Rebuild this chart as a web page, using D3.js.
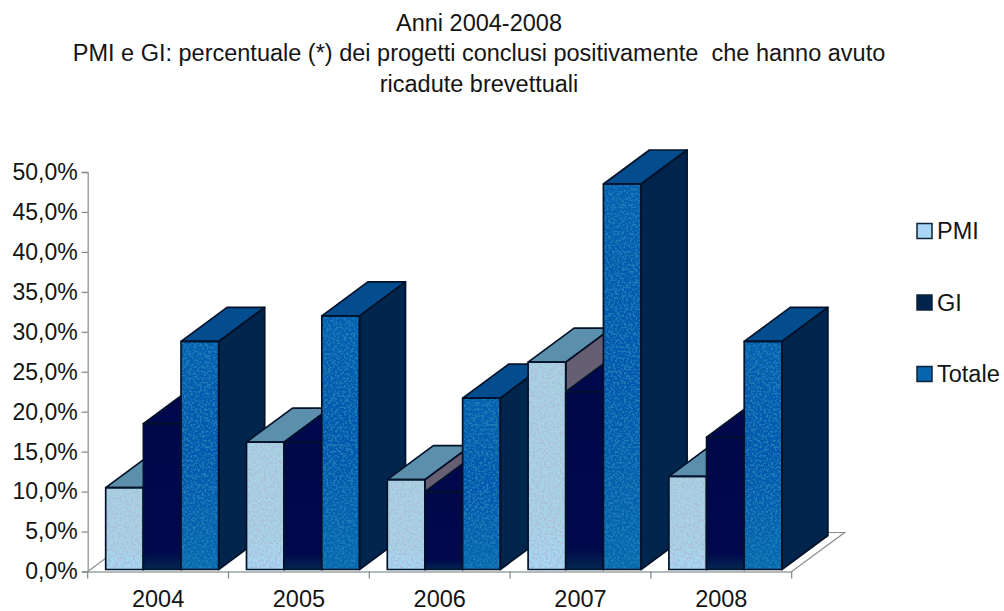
<!DOCTYPE html>
<html>
<head>
<meta charset="utf-8">
<script src="https://cdn.jsdelivr.net/npm/d3@7"></script>
<style>
  html, body { margin: 0; padding: 0; background: #fff; }
  svg { display: block; }
  text { font-family: "Liberation Sans", Arial, sans-serif; fill: #141414; }
</style>
</head>
<body>
<div id="chart"></div>
<script>
// chart values
var years = ["2004", "2005", "2006", "2007", "2008"];
var seriesNames = ["PMI", "GI", "Totale"];
var pmi = [10.5, 16.2, 11.5, 26.2, 11.9];
var gi = [18.5, 16.2, 10.0, 22.5, 16.8];
var totale = [28.8, 32.0, 21.7, 48.5, 28.8];
var yTicks = [0, 5, 10, 15, 20, 25, 30, 35, 40, 45, 50];
var titleLines = [
    "Anni 2004-2008",
    "PMI e GI: percentuale (*) dei progetti conclusi positivamente  che hanno avuto",
    "ricadute brevettuali"
];

var seriesValues = {PMI: pmi, GI: gi, Totale: totale};

var width = 1004, height = 611;

var colors = {
    PMI: {front: "url(#gradPmi)", top: "#5b8fab", side: "#665f74", swatch: "#a9d6f2", noise: "url(#noisePmi)"},
    GI: {front: "url(#gradGi)", top: "#00094c", side: "#00094c", swatch: "#03234f", noise: null},
    Totale: {front: "url(#gradTot)", top: "#034c8d", side: "#02254e", swatch: "#0565ae", noise: "url(#noiseTot)"}
};

var svg = d3.select("#chart").append("svg")
    .attr("width", width)
    .attr("height", height)
    .attr("viewBox", "0 0 " + width + " " + height);

// front face gradients
var defs = svg.append("defs");
function addGrad(id, stops) {
    var g = defs.append("linearGradient").attr("id", id)
        .attr("x1", 0).attr("y1", 0).attr("x2", 0).attr("y2", 1);
    stops.forEach(function (s) {
        g.append("stop").attr("offset", s[0]).attr("stop-color", s[1]);
    });
}
addGrad("gradPmi", [[0, "#a8d2e2"], [0.75, "#a8d3e4"], [1, "#a6d8f6"]]);
addGrad("gradGi", [[0, "#00084a"], [0.88, "#00094c"], [1, "#03274f"]]);
addGrad("gradTot", [[0, "#0560b0"], [0.5, "#0456ae"], [1, "#056aae"]]);

// speckle left over from the scan, drawn over the front faces
function addNoise(id, color, seed) {
    var f = defs.append("filter").attr("id", id)
        .attr("x", 0).attr("y", 0).attr("width", 1).attr("height", 1);
    f.append("feTurbulence")
        .attr("type", "fractalNoise")
        .attr("baseFrequency", 0.45)
        .attr("numOctaves", 2)
        .attr("seed", seed)
        .attr("result", "n");
    f.append("feColorMatrix")
        .attr("in", "n")
        .attr("type", "matrix")
        .attr("values", "0 0 0 0 0  0 0 0 0 0  0 0 0 0 0  9 0 0 0 -4.4")
        .attr("result", "mask");
    f.append("feFlood").attr("flood-color", color).attr("result", "c");
    f.append("feComposite").attr("in", "c").attr("in2", "mask").attr("operator", "in").attr("result", "spots");
    f.append("feComposite").attr("in", "spots").attr("in2", "SourceAlpha").attr("operator", "in");
}
addNoise("noisePmi", "#abc0dc", 3);
addNoise("noiseTot", "#1a7ab6", 7);

var x = d3.scaleBand().domain(years).range([87.7, 791.7]);
var xBar = d3.scaleBand().domain(seriesNames).range([18, 131]);
var y = d3.scaleLinear().domain([0, 50]).range([571.5, 172]);

var depthX = 46, depthY = 34;   // 3d offset of the bars
var floorX = 53, floorY = 39;   // 3d offset of the floor
var barBase = y(0) - 2;

// floor
svg.append("path")
    .attr("d", d3.line()([
        [x.range()[0], y(0)],
        [x.range()[0] + floorX, y(0) - floorY],
        [x.range()[1] + floorX, y(0) - floorY],
        [x.range()[1], y(0)]
    ]))
    .attr("fill", "#fff")
    .attr("stroke", "#8a8f90")
    .attr("stroke-width", 1.2);

// axes
var fmt = d3.formatLocale({decimal: ",", thousands: ".", grouping: [3], currency: ["", ""]}).format(".1f");

var yAxis = svg.append("g")
    .attr("transform", "translate(" + x.range()[0] + ",0)")
    .call(d3.axisLeft(y).tickValues(yTicks).tickSize(6).tickPadding(4)
        .tickFormat(function (d) { return fmt(d) + "%"; }));
yAxis.selectAll("text").style("font-size", "23px");
yAxis.selectAll("line").attr("stroke", "#7d8488").attr("stroke-width", 1.2);
yAxis.select(".domain").attr("stroke", "#9aa3a6").attr("stroke-width", 1.5);

var xAxis = svg.append("g")
    .attr("transform", "translate(0," + y(0) + ")")
    .call(d3.axisBottom(x).tickSize(0).tickPadding(19));
xAxis.selectAll("text").style("font-size", "23.5px");
xAxis.select(".domain").attr("stroke", "#9aa3a6").attr("stroke-width", 1.5);

// tick marks sit between the categories
svg.append("g").selectAll("line")
    .data(years.concat(["end"]))
    .join("line")
    .attr("x1", function (d, i) { return x.range()[0] + i * x.bandwidth(); })
    .attr("x2", function (d, i) { return x.range()[0] + i * x.bandwidth(); })
    .attr("y1", y(0))
    .attr("y2", y(0) + 7)
    .attr("stroke", "#7d8488")
    .attr("stroke-width", 1.2);

// bars, left to right so later ones cover earlier ones
years.forEach(function (year, i) {
    seriesNames.forEach(function (name) {
        var group = svg.append("g").attr("class", "bar-" + year + "-" + name);
        var v = seriesValues[name][i];
        var x0 = x(year) + xBar(name), x1 = x0 + xBar.bandwidth();
        var yTop = y(v);
        var line = d3.line();
        var side = line([[x1, yTop], [x1 + depthX, yTop - depthY], [x1 + depthX, barBase - depthY], [x1, barBase]]) + "Z";
        var top = line([[x0, yTop], [x0 + depthX, yTop - depthY], [x1 + depthX, yTop - depthY], [x1, yTop]]) + "Z";
        var front = line([[x0, yTop], [x1, yTop], [x1, barBase], [x0, barBase]]) + "Z";

        group.append("path").attr("d", side).attr("fill", colors[name].side);
        group.append("path").attr("d", top).attr("fill", colors[name].top);
        group.append("path").attr("d", front).attr("fill", colors[name].front);
        if (colors[name].noise) {
            group.append("path").attr("d", front).attr("fill", "#000").attr("filter", colors[name].noise);
        }
        group.selectAll("path.edge")
            .data([side, top, front])
            .join("path")
            .attr("class", "edge")
            .attr("d", function (d) { return d; })
            .attr("fill", "none")
            .attr("stroke", "#01122a")
            .attr("stroke-width", 1.7)
            .attr("stroke-linejoin", "round");
    });
});

// title
svg.append("g").selectAll("text")
    .data(titleLines)
    .join("text")
    .attr("x", 479)
    .attr("y", function (d, i) { return 30.5 + i * 30.5; })
    .attr("text-anchor", "middle")
    .style("font-size", "23.5px")
    .style("white-space", "pre")
    .text(function (d) { return d; });

// legend
var legendY = d3.scalePoint().domain(seriesNames).range([231, 374]);
var legend = svg.append("g").selectAll("g")
    .data(seriesNames)
    .join("g")
    .attr("transform", function (d) { return "translate(917," + legendY(d) + ")"; });
legend.append("rect")
    .attr("x", 0).attr("y", -7.5)
    .attr("width", 15).attr("height", 15)
    .attr("fill", function (d) { return colors[d].swatch; })
    .attr("stroke", "#0c2438")
    .attr("stroke-width", 1.5);
legend.append("text")
    .attr("x", 20)
    .attr("dy", "0.36em")
    .style("font-size", "23.5px")
    .text(function (d) { return d; });
</script>
</body>
</html>
